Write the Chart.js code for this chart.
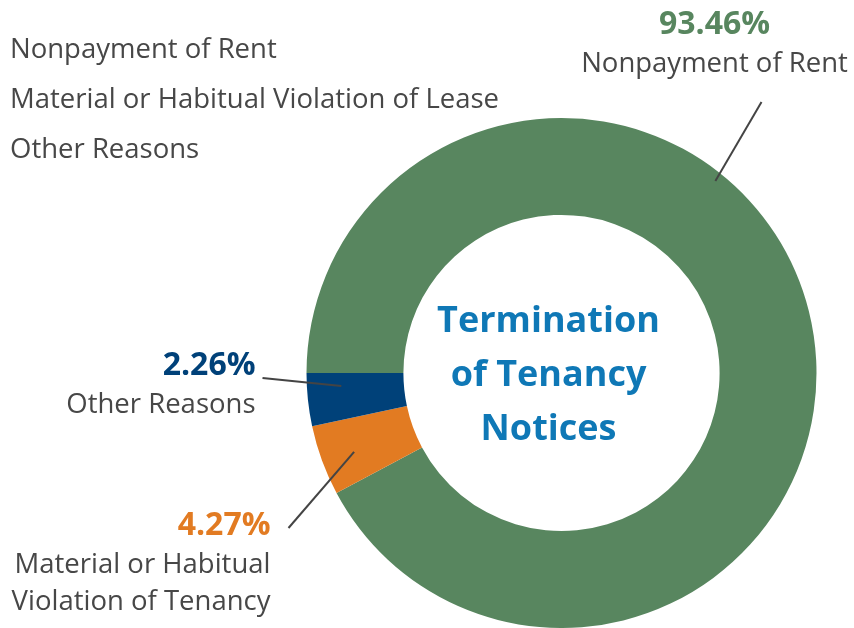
<!DOCTYPE html>
<html>
<head>
<meta charset="utf-8">
<script src="https://cdn.jsdelivr.net/npm/chart.js@4/dist/chart.umd.min.js"></script>
<style>
  html,body{margin:0;padding:0;background:#fff;}
  #wrap{width:854px;height:628px;position:relative;}
</style>
</head>
<body>
<div id="wrap"><canvas id="chart"></canvas></div>
<script>
const categories=["Nonpayment of Rent","Material or Habitual Violation of Lease","Other Reasons"]
// printed percentages
const pctLabels=[93.46,4.27,2.26]
const shares=[92.2,4.45,3.35]
const colors=["#58865f","#e27b22","#004179"]
const calloutText=[["Nonpayment of Rent"],["Material or Habitual","Violation of Tenancy"],["Other Reasons"]]
const centerTitle=["Termination","of Tenancy","Notices"]

const FONT='"Open Sans", sans-serif'
const TEXT='#474747'

// callout anchors (deg clockwise from top, fraction of radius) and offsets from ring centre
const callouts=[
  {angle:38.7, r:0.965, end:[200,-271], text:[153,-339], align:"center"},
  {angle:249.2, r:0.87, end:[-273,155], text:[-291,162], align:"right"},
  {angle:266.6, r:0.865, end:[-299,5], text:[-306,2], align:"right"}
]

const labelPlugin={
  id:"labels",
  afterDraw(chart){
    const ctx=chart.ctx
    const meta=chart.getDatasetMeta(0)
    const arc0=meta.data[0]
    const cx=arc0.x, cy=arc0.y, R=arc0.outerRadius

    ctx.save()
    // legend, text only
    ctx.font="27.5px "+FONT
    ctx.fillStyle=TEXT
    ctx.textAlign="left"
    ctx.textBaseline="alphabetic"
    categories.forEach((c,i)=>ctx.fillText(c,10,58+i*50))

    // centre title
    ctx.font="bold 36px "+FONT
    ctx.fillStyle="#0f78b6"
    ctx.textAlign="center"
    centerTitle.forEach((t,i)=>ctx.fillText(t,cx-13,cy-41+i*54))

    // callouts
    meta.data.forEach((arc,i)=>{
      const c=callouts[i]
      const a=(c.angle-90)*Math.PI/180
      const x1=cx+Math.cos(a)*R*c.r
      const y1=cy+Math.sin(a)*R*c.r
      const x2=cx+c.end[0], y2=cy+c.end[1]
      ctx.strokeStyle="#444"
      ctx.lineWidth=2
      ctx.beginPath()
      ctx.moveTo(x1,y1)
      ctx.lineTo(x2,y2)
      ctx.stroke()

      const tx=cx+c.text[0], ty=cy+c.text[1]
      ctx.textAlign=c.align
      ctx.font="bold 32px "+FONT
      ctx.fillStyle=colors[i]
      ctx.fillText(pctLabels[i].toFixed(2)+"%",tx,ty)
      ctx.font="27.5px "+FONT
      ctx.fillStyle=TEXT
      calloutText[i].forEach((t,j)=>ctx.fillText(t,tx,ty+38+j*37))
    })
    ctx.restore()
  }
}

new Chart(document.getElementById("chart"),{
  type:"doughnut",
  data:{
    labels:categories,
    datasets:[{
      data:shares,
      backgroundColor:colors,
      borderWidth:0
    }]
  },
  options:{
    responsive:true,
    maintainAspectRatio:false,
    animation:false,
    rotation:-90,
    cutout:"62%",
    layout:{padding:{left:306,right:37,top:118,bottom:0}},
    plugins:{
      legend:{display:false},
      tooltip:{enabled:false}
    }
  },
  plugins:[labelPlugin]
})
</script>
</body>
</html>
